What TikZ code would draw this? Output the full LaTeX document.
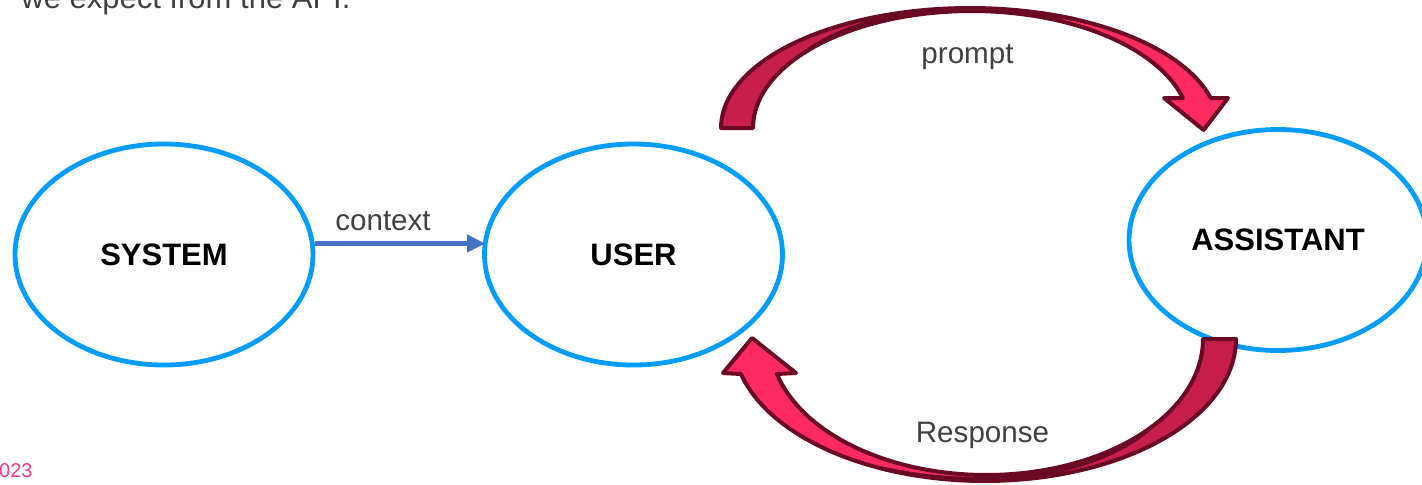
\documentclass[tikz,border=0pt]{standalone}
\usepackage{fontspec}
\setmainfont{Liberation Sans}
\usetikzlibrary{shapes.geometric,arrows.meta}
\definecolor{ellblue}{HTML}{009CFF}
\definecolor{ctxblue}{HTML}{4472C4}
\definecolor{arrpink}{HTML}{FF2A5F}
\definecolor{arrdark}{HTML}{C81E4B}
\definecolor{arrline}{HTML}{6B0A24}
\definecolor{txtgray}{HTML}{404040}
\definecolor{yrpink}{HTML}{EE3A8C}
\begin{document}
\begin{tikzpicture}[x=0.5pt,y=-0.5pt,
  bubble/.style={ellipse,draw=ellblue,line width=2.4pt,minimum width=149pt,minimum height=110.5pt,inner sep=0pt,font=\fontsize{15.5}{18}\selectfont\bfseries},
  lbl/.style={text=txtgray,font=\fontsize{14.8}{18}\selectfont,inner sep=0pt},
  ctx/.style={draw=ctxblue,line width=2.2pt,-{Triangle[length=9pt,width=8.5pt]}},
  band/.style={draw=arrline,line width=2pt,line join=round},
]
\fill[white] (0,0) rectangle (1422,484);
\useasboundingbox (0,0) rectangle (1422,484);

% cropped texts from the slide
\node[lbl,font=\fontsize{15.5}{18}\selectfont,anchor=base west] (toptext) at (21,8) {we expect from the API.};
\node[text=yrpink,font=\fontsize{10}{12}\selectfont,inner sep=0pt,anchor=base east] (year) at (33,477) {2023};

% ellipses
\node[bubble] (sys) at (164,254.5) {SYSTEM};
\node[bubble] (user) at (633.5,254.5) {USER};
\node[bubble] (asst) at (1278,240) {ASSISTANT};

% context arrow
\draw[ctx] ([yshift=5.5pt]sys.east) -- ([xshift=1.5pt,yshift=5.5pt]user.west);
\node[lbl,anchor=base] (ctxlbl) at (383,230) {context};

% top curved arrow (prompt)
\path[band,fill=arrpink]
  plot[variable=\t,domain=140:65,samples=40] ({971.6+218.6*cos(\t)+((140-\t)/75)*(-1.8+30.2*cos(\t))},{128-(117+3*(140-\t)/75)*sin(\t)})
  -- plot[variable=\t,domain=65:14.48,samples=30] ({969.8+248.8*cos(\t)},{128-120*sin(\t)})
  -- (1228,98) -- (1203.6,130) -- (1164,98)
  -- plot[variable=\t,domain=14.86:140,samples=60] ({971.6+218.6*cos(\t)},{128-117*sin(\t)})
  -- cycle;
\path[band,fill=arrdark]
  plot[variable=\t,domain=180:65,samples=60] ({969.8+248.8*cos(\t)},{128-120*sin(\t)})
  -- plot[variable=\t,domain=65:140,samples=40] ({971.6+218.6*cos(\t)+((140-\t)/75)*(-1.8+30.2*cos(\t))},{128-(117+3*(140-\t)/75)*sin(\t)})
  -- plot[variable=\t,domain=140:180,samples=20] ({971.6+218.6*cos(\t)},{128-117*sin(\t)})
  -- cycle;
\node[lbl,anchor=base] (promptlbl) at (967.5,63) {prompt};

% bottom curved arrow (Response)
\path[band,fill=arrpink]
  plot[variable=\t,domain=40:115,samples=40] ({986.3+216.7*cos(\t)+((\t-40)/75)*(-1.7+34.7*cos(\t))},{339+(136+6*(\t-40)/75)*sin(\t)})
  -- plot[variable=\t,domain=115:165.73,samples=30] ({984.6+251.4*cos(\t)},{339+142*sin(\t)})
  -- (723,373) -- (752,338) -- (796,373)
  -- plot[variable=\t,domain=165.09:40,samples=60] ({986.3+216.7*cos(\t)},{339+136*sin(\t)})
  -- cycle;
\path[band,fill=arrdark]
  plot[variable=\t,domain=0:115,samples=60] ({984.6+251.4*cos(\t)},{339+142*sin(\t)})
  -- plot[variable=\t,domain=115:40,samples=40] ({986.3+216.7*cos(\t)+((\t-40)/75)*(-1.7+34.7*cos(\t))},{339+(136+6*(\t-40)/75)*sin(\t)})
  -- plot[variable=\t,domain=40:0,samples=20] ({986.3+216.7*cos(\t)},{339+136*sin(\t)})
  -- cycle;
\node[lbl,anchor=base] (resplbl) at (982.5,442) {Response};
\end{tikzpicture}
\end{document}
